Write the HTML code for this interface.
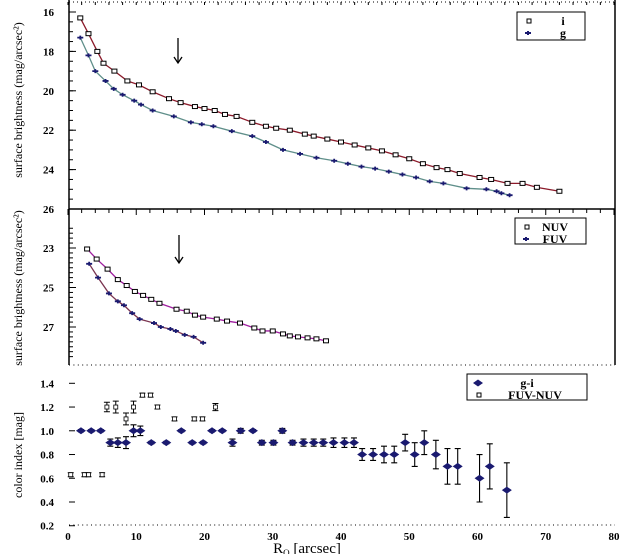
<!DOCTYPE html>
<html><head><meta charset="utf-8">
<style>
html,body{margin:0;padding:0;background:#fff;}
svg{display:block;font-family:"Liberation Serif",serif;}
</style></head>
<body>
<svg id="chart" width="626" height="554" viewBox="0 0 626 554" xmlns="http://www.w3.org/2000/svg"></svg>
<script>
// ---- data ----
const iR = [1.8,3,4.3,5.2,6.8,8.7,10.4,12.4,14.8,16.5,18.6,20,21.5,23,24.7,27,29,30.5,32.5,34.7,36,38,40,42,44,46,48,50,52,54,55.6,57.4,60.3,62,64.4,66.6,68.7,72];
const iMag = [16.3,17.1,18.0,18.6,19.0,19.5,19.7,20.05,20.4,20.6,20.8,20.9,21.0,21.2,21.3,21.6,21.8,21.9,22.0,22.2,22.3,22.45,22.6,22.75,22.9,23.05,23.25,23.45,23.7,23.9,24.0,24.2,24.4,24.5,24.7,24.7,24.9,25.1];
const gR = [1.8,3,4,5.5,6.7,8,9.7,10.7,12.4,15.5,18,19.6,21.3,24,27,29,31.5,34,36.4,39,41,43,45,47,49,51,53,55,58.4,61.3,62.8,63.5,64.7];
const gMag = [17.3,18.2,19.0,19.5,19.9,20.2,20.5,20.7,21.0,21.3,21.6,21.7,21.8,22.05,22.3,22.6,23.0,23.2,23.4,23.55,23.7,23.85,23.95,24.1,24.25,24.4,24.6,24.7,24.95,25.0,25.1,25.2,25.3];
const nuvR = [2.8,4.2,5.8,7.3,8.6,9.8,11,12.2,13.4,15.9,17.4,18.6,19.8,21.8,23.3,25.2,27.3,28.5,30,31.5,32.5,33.7,35.1,36.4,37.8];
const nuvMag = [23.05,23.56,24.07,24.6,24.9,25.2,25.4,25.6,25.8,26.1,26.2,26.4,26.5,26.6,26.7,26.8,27.05,27.2,27.2,27.35,27.45,27.5,27.55,27.6,27.7];
const fuvR = [3.1,4.4,6,7.3,8.2,9.4,10.5,12.6,13.6,15,15.8,17.1,18.4,19.8];
const fuvMag = [23.8,24.5,25.3,25.7,25.9,26.3,26.6,26.8,27.0,27.1,27.2,27.4,27.5,27.8];
const giR = [1.9,3.4,4.8,6.2,7.3,8.5,9.6,10.6,12.2,14.4,16.6,18.2,19.8,21.1,22.6,24.1,25.3,27.1,28.4,30.1,31.4,32.9,34.5,36.0,37.4,38.9,40.5,41.9,43.1,44.7,46.3,47.8,49.4,50.8,52.2,53.9,55.6,57.1,60.3,61.8,64.3];
const giVal = [1.0,1.0,1.0,0.9,0.9,0.9,1.0,1.0,0.9,0.9,1.0,0.9,0.9,1.0,1.0,0.9,1.0,1.0,0.9,0.9,1.0,0.9,0.9,0.9,0.9,0.9,0.9,0.9,0.8,0.8,0.8,0.8,0.9,0.8,0.9,0.8,0.7,0.7,0.6,0.7,0.5];
const giErr = [0.01,0.01,0.01,0.03,0.04,0.05,0.05,0.04,0.01,0.01,0.01,0.01,0.01,0.01,0.01,0.03,0.02,0.01,0.02,0.02,0.02,0.02,0.03,0.03,0.03,0.04,0.04,0.04,0.05,0.05,0.07,0.07,0.07,0.1,0.1,0.12,0.15,0.15,0.2,0.19,0.23];
const fnR = [0.4,2.4,3,5,5.7,7,8.5,9.6,10.9,12.1,13.1,15.6,18.5,19.7,21.6];
const fnVal = [0.63,0.63,0.63,0.63,1.2,1.2,1.1,1.2,1.3,1.3,1.2,1.1,1.1,1.1,1.2];
const fnErr = [0,0.005,0.005,0.01,0.04,0.05,0.05,0.05,0.01,0.01,0.01,0.01,0.01,0.01,0.03];
const xTicks = [0,10,20,30,40,50,60,70,80];
const topTicks = [16,18,20,22,24,26];
const midTicks = [23,25,27];
const botTicks = [0.2,0.4,0.6,0.8,1.0,1.2,1.4];

// ---- scales ----
const X0=68, X1=614;
const xs = r => X0 + (r/80)*(X1-X0);
const yTop = m => 12 + (m-16)*19.7;
const yMid = m => 248 + (m-23)*19.75;
const yBot = v => 383.3 + (1.4-v)*118.7;

const svg = document.getElementById('chart');
const NS='http://www.w3.org/2000/svg';
function mk(tag, attrs, parent){const e=document.createElementNS(NS,tag);for(const k in attrs)e.setAttribute(k,attrs[k]);(parent||svg).appendChild(e);return e;}

let g0 = mk('g',{});


mk('line',{x1:69,y1:0,x2:69,y2:365,stroke:'#000','stroke-width':1.5},g0);
mk('line',{x1:615,y1:0,x2:615,y2:365,stroke:'#000','stroke-width':1.5},g0);
mk('line',{x1:69,y1:2,x2:615,y2:2,stroke:'#000','stroke-width':1,'stroke-dasharray':'1 3'},g0);
mk('line',{x1:69,y1:209,x2:615,y2:209,stroke:'#000','stroke-width':1.5},g0);
mk('line',{x1:69,y1:365,x2:615,y2:365,stroke:'#000','stroke-width':1,'stroke-dasharray':'1 3.4'},g0);
mk('line',{x1:69,y1:525,x2:615,y2:525,stroke:'#000','stroke-width':1,'stroke-dasharray':'1 3.4'},g0);
for(let r=0;r<=80;r+=2){mk('line',{x1:xs(r),y1:209,x2:xs(r),y2:r%10==0?215:213,stroke:'#000','stroke-width':1},g0);mk('line',{x1:xs(r),y1:2,x2:xs(r),y2:5,stroke:'#000','stroke-width':1},g0);}

function label(x,y,txt,name,anchor,size){const t=mk('text',{x:x,y:y,'font-size':size||11,'font-weight':'bold','text-anchor':anchor||'end',fill:'#000'});t.textContent=txt;return t;}
topTicks.forEach(m=>{label(54,yTop(m)+4,String(m),'y-tick-top');mk('line',{x1:69,y1:yTop(m),x2:76,y2:yTop(m),stroke:'#000'});});
for(let m=16;m<=26;m+=0.5) mk('line',{x1:69,y1:yTop(m),x2:73,y2:yTop(m),stroke:'#000'});
midTicks.forEach(m=>{label(54,yMid(m)+4,String(m),'y-tick-mid');mk('line',{x1:69,y1:yMid(m),x2:76,y2:yMid(m),stroke:'#000'});});
for(let m=22;m<=28.5;m+=0.25) mk('line',{x1:69,y1:yMid(m),x2:73,y2:yMid(m),stroke:'#000'});
botTicks.forEach(v=>{label(54,yBot(v)+4,v.toFixed(1),'y-tick-bottom');mk('line',{x1:69,y1:yBot(v),x2:75,y2:yBot(v),stroke:'#000'});});
xTicks.forEach(r=>label(xs(r),540,String(r),'x-tick','middle'));

let t1=mk('text',{transform:'translate(22,100) rotate(-90)','font-size':12,'text-anchor':'middle'});t1.textContent='surface brightness (mag/arcsec²)';

let t2=mk('text',{transform:'translate(22,288) rotate(-90)','font-size':12,'text-anchor':'middle'});t2.textContent='surface brightness (mag/arcsec²)';

let t3=mk('text',{transform:'translate(22,455) rotate(-90)','font-size':12,'text-anchor':'middle'});t3.textContent='color index [mag]';

let t4=mk('text',{x:307,y:553,'font-size':15,'text-anchor':'middle'});t4.innerHTML='R<tspan font-size="9" dy="3">O</tspan><tspan dy="-3"> [arcsec]</tspan>';


function arrow(x,y1,y2,name){const g=mk('g',{});mk('line',{x1:x,y1:y1,x2:x,y2:y2,stroke:'#000','stroke-width':1.3},g);mk('path',{d:`M${x-4},${y2-5} L${x},${y2+1} L${x+4},${y2-5}`,fill:'none',stroke:'#000','stroke-width':1.3},g);}
arrow(178,38,62,'arrow-top');arrow(179,235,262,'arrow-middle');

function line(R,V,ys,color,name){const p=mk('polyline',{points:R.map((r,k)=>xs(r)+','+ys(V[k])).join(' '),fill:'none',stroke:color,'stroke-width':1.3});}
function squares(R,V,ys,name){R.forEach((r,k)=>{const s=mk('rect',{x:xs(r)-2.5,y:ys(V[k])-2,width:5,height:4,fill:'#fff',stroke:'#000','stroke-width':1});});}
function stars(R,V,ys,name){R.forEach((r,k)=>{const x=xs(r),y=ys(V[k]);const p=mk('path',{d:`M${x-3},${y} L${x+3},${y} M${x},${y-2} L${x},${y+2}`,stroke:'#1a1a70','stroke-width':1.8});});}

line(iR,iMag,yTop,'#8b1a2a','fit-line-i');
line(gR,gMag,yTop,'#5f8f8a','fit-line-g');
squares(iR,iMag,yTop,'point-i');
stars(gR,gMag,yTop,'point-g');
line(nuvR,nuvMag,yMid,'#a020a0','fit-line-nuv');
line(fuvR,fuvMag,yMid,'#7a3450','fit-line-fuv');
squares(nuvR,nuvMag,yMid,'point-nuv');
stars(fuvR,fuvMag,yMid,'point-fuv');

fnR.forEach((r,k)=>{const x=xs(r),y=yBot(fnVal[k]);const g=mk('g',{});
 const e=Math.max(fnErr[k]*118.7,2);mk('path',{d:`M${x},${y-e} L${x},${y+e} M${x-3},${y-e} L${x+3},${y-e} M${x-3},${y+e} L${x+3},${y+e}`,stroke:'#000','stroke-width':1},g);
 mk('rect',{x:x-2,y:y-2,width:4,height:4,fill:'#fff',stroke:'#000','stroke-width':0.8},g);});
giR.forEach((r,k)=>{const x=xs(r),y=yBot(giVal[k]);const g=mk('g',{});
 const e=giErr[k]*118.7;mk('path',{d:`M${x},${y-e} L${x},${y+e} M${x-3},${y-e} L${x+3},${y-e} M${x-3},${y+e} L${x+3},${y+e}`,stroke:'#000','stroke-width':1.1},g);
 mk('path',{d:`M${x-5},${y} L${x},${y-3.5} L${x+5},${y} L${x},${y+3.5}Z`,fill:'#1a1a70'},g);});

function legend(x,y,w,h,items,name){const g=mk('g',{});
 mk('rect',{x:x,y:y,width:w,height:h,fill:'#fff',stroke:'#000','stroke-width':1},g);
 items.forEach((it,k)=>{const yy=y+9+k*12;
  if(it.m==='sq')mk('rect',{x:x+10,y:yy-2,width:4,height:4,fill:'#fff',stroke:'#000'},g);
  else if(it.m==='dia')mk('path',{d:`M${x+6},${yy} L${x+11},${yy-3.5} L${x+16},${yy} L${x+11},${yy+3.5}Z`,fill:'#1a1a70'},g);
  else mk('path',{d:`M${x+8},${yy} L${x+14},${yy} M${x+11},${yy-2} L${x+11},${yy+2}`,stroke:'#1a1a70','stroke-width':2},g);
  const t=mk('text',{x:it.tx,y:yy+4,'font-size':12,'font-weight':'bold','text-anchor':'middle'},g);t.textContent=it.t;});}
legend(517,12,68,28,[{m:'sq',t:'i',tx:563},{m:'st',t:'g',tx:563}],'legend-top');
legend(515,218,71,26,[{m:'sq',t:'NUV',tx:555},{m:'st',t:'FUV',tx:555}],'legend-middle');
legend(467,374,120,26,[{m:'dia',t:'g-i',tx:527},{m:'sq',t:'FUV-NUV',tx:535}],'legend-bottom');
</script>
</body></html>
